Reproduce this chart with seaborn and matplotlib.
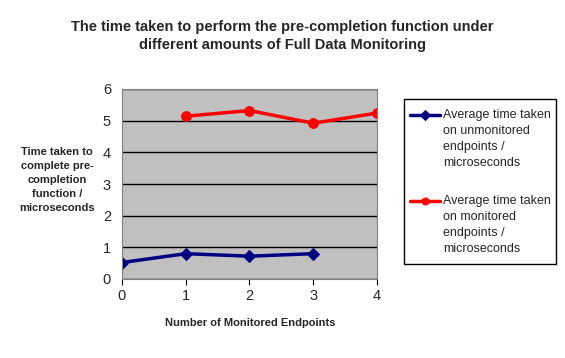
import pandas as pd
import matplotlib.pyplot as plt
import seaborn as sns
from matplotlib.patches import Rectangle

# data
endpoints_unmon = [0, 1, 2, 3]
time_unmon = [0.52, 0.80, 0.72, 0.80]
endpoints_mon = [1, 2, 3, 4]
time_mon = [5.14, 5.32, 4.92, 5.24]

label_unmon = "Average time taken\non unmonitored\nendpoints /\nmicroseconds"
label_mon = "Average time taken\non monitored\nendpoints /\nmicroseconds"

sns.set_style("white")
plt.rcParams["font.family"] = ["Liberation Sans", "DejaVu Sans"]

df_unmon = pd.DataFrame({"x": endpoints_unmon, "y": time_unmon})
df_mon = pd.DataFrame({"x": endpoints_mon, "y": time_mon})

fig = plt.figure(figsize=(5.65, 3.58), dpi=100)
ax = fig.add_axes([122 / 565, 1 - 279 / 358, 255 / 565, 190 / 358])
ax.set_facecolor("#C0C0C0")

sns.lineplot(data=df_unmon, x="x", y="y", ax=ax, color="#000080", marker="D",
             markersize=6, markeredgecolor="#000080", linewidth=2.5, label=label_unmon)
sns.lineplot(data=df_mon, x="x", y="y", ax=ax, color="#FF0000", marker="o",
             markersize=7, markeredgecolor="#FF0000", linewidth=2.5, label=label_mon)

ax.set_xlim(0, 4)
ax.set_ylim(0, 6)
ax.set_xticks(range(5))
ax.set_yticks(range(7))
ax.yaxis.grid(True, color="black", linewidth=1)
ax.set_axisbelow(True)
for s in ax.spines.values():
    s.set_color("#808080")
ax.tick_params(axis="x", length=4, color="black", labelsize=10.5, pad=3, direction="out", bottom=True)
ax.tick_params(axis="y", length=0, labelsize=10.5, pad=8)
ax.set_xlabel("")
ax.set_ylabel("")

# legend box drawn separately, legend itself without frame
fig.patches.append(Rectangle((404 / 565, 1 - 264 / 358), 152 / 565, 165 / 358,
                             transform=fig.transFigure, fill=False, edgecolor="black", linewidth=1))
handles, labels = ax.get_legend_handles_labels()
ax.legend_.remove()
leg = fig.legend(handles, labels, loc="upper left", bbox_to_anchor=(410 / 565, 1 - 109 / 358),
                 borderaxespad=0, frameon=False, fontsize=9, handlelength=2.4, labelspacing=2.05,
                 borderpad=0, handletextpad=0.25)
for t in leg.get_texts():
    t.set_linespacing(1.45)
# put each legend line next to the first text line, like the original
for h in leg.legend_handles:
    h.set_markersize(5)
    h.set_ydata(h.get_ydata() + 17.5)

fig.text(0.5, 1 - 36 / 358, "The time taken to perform the pre-completion function under\n"
         "different amounts of Full Data Monitoring", ha="center", va="center",
         fontsize=10.5, fontweight="bold", linespacing=1.3)
fig.text(57 / 565, 1 - 180 / 358, "Time taken to\ncomplete pre-\ncompletion\nfunction /\nmicroseconds",
         ha="center", va="center", fontsize=8, fontweight="bold", linespacing=1.5)
fig.text(250 / 565, 1 - 323 / 358, "Number of Monitored Endpoints", ha="center", va="center",
         fontsize=8, fontweight="bold")

fig.savefig("out.png", dpi=100, facecolor="white")
